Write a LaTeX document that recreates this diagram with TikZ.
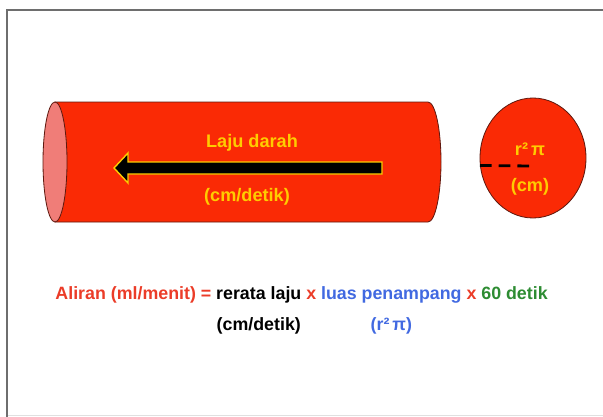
\documentclass[tikz,border=0pt]{standalone}
\usepackage{fontspec}
\setmainfont{Liberation Sans}
\usepackage{tikz}
\usetikzlibrary{shapes,positioning}

\definecolor{vessel}{RGB}{250,42,5}
\definecolor{vesselend}{RGB}{240,125,120}
\definecolor{vesselrim}{RGB}{95,25,15}
\definecolor{gold}{RGB}{255,204,0}
\definecolor{flowred}{RGB}{235,60,40}
\definecolor{areablue}{RGB}{65,105,225}
\definecolor{timegreen}{RGB}{45,140,50}
\definecolor{framegray}{RGB}{110,110,110}

\begin{document}
\begin{tikzpicture}[x=0.03cm, y=-0.03cm]
  \useasboundingbox (0,0) rectangle (603,417);
  \tikzset{VesselStyle/.style = {draw=vesselrim, line width=0.7pt, fill=vessel}}
  \tikzset{LabelStyle/.style = {inner sep=1pt, text=gold, font=\fontsize{15.5}{18}\selectfont\bfseries}}
  \tikzset{TermStyle/.style = {inner xsep=1.9pt, inner ysep=1pt, font=\fontsize{15.2}{18}\selectfont\bfseries}}

  % frame
  \draw[framegray, line width=1.6pt] (603,10) -- (7,10) -- (7,417);
  \draw[black!12, line width=0.6pt] (8,415) -- (603,415);

  % vessel
  \draw[VesselStyle] (55,102) -- (428,102)
     arc[start angle=-90, end angle=90, x radius=13, y radius=60] -- (55,222) -- cycle;
  \node(1)[VesselStyle, fill=vesselend, shape=ellipse, inner sep=0pt,
           minimum width=0.72cm, minimum height=3.6cm] at (55,162) {};

  % flow arrow
  \draw[draw=gold, line width=1.2pt, fill=black, line join=miter]
     (382,162) -- (128,162) -- (128,153) -- (114,168) -- (128,183) -- (128,174) -- (382,174) -- cycle;
  \node(2)[LabelStyle] at (252,143) {Laju darah};
  \node(3)[LabelStyle] at (247,197) {(cm/detik)};

  % cross section
  \node(4)[VesselStyle, shape=ellipse, inner sep=0pt,
           minimum width=3.18cm, minimum height=3.6cm] at (533,158) {};
  \node(5)[LabelStyle] at (530,149) {r²\,π};
  \node(6)[LabelStyle] at (530,187) {(cm)};
  \coordinate (r) at (530,166);
  \draw[black, line width=2.4pt, dash pattern=on 10pt off 6pt] (4.188) -- (r);

  % formula
  \node(7)[TermStyle, text=flowred, anchor=base west] at (53,299) {Aliran (ml/menit) =};
  \node(8)[TermStyle, anchor=base west] at (7.base east) {rerata laju};
  \node(9)[TermStyle, text=flowred, anchor=base west] at (8.base east) {x};
  \node(10)[TermStyle, text=areablue, anchor=base west] at (9.base east) {luas penampang};
  \node(11)[TermStyle, text=flowred, anchor=base west] at (10.base east) {x};
  \node(12)[TermStyle, text=timegreen, anchor=base west] at (11.base east) {60 detik};
  \node(13)[TermStyle, below=10pt of 8] {(cm/detik)};
  \node(14)[TermStyle, text=areablue, below=10pt of 10] {(r²\,π)};

\end{tikzpicture}
\end{document}
